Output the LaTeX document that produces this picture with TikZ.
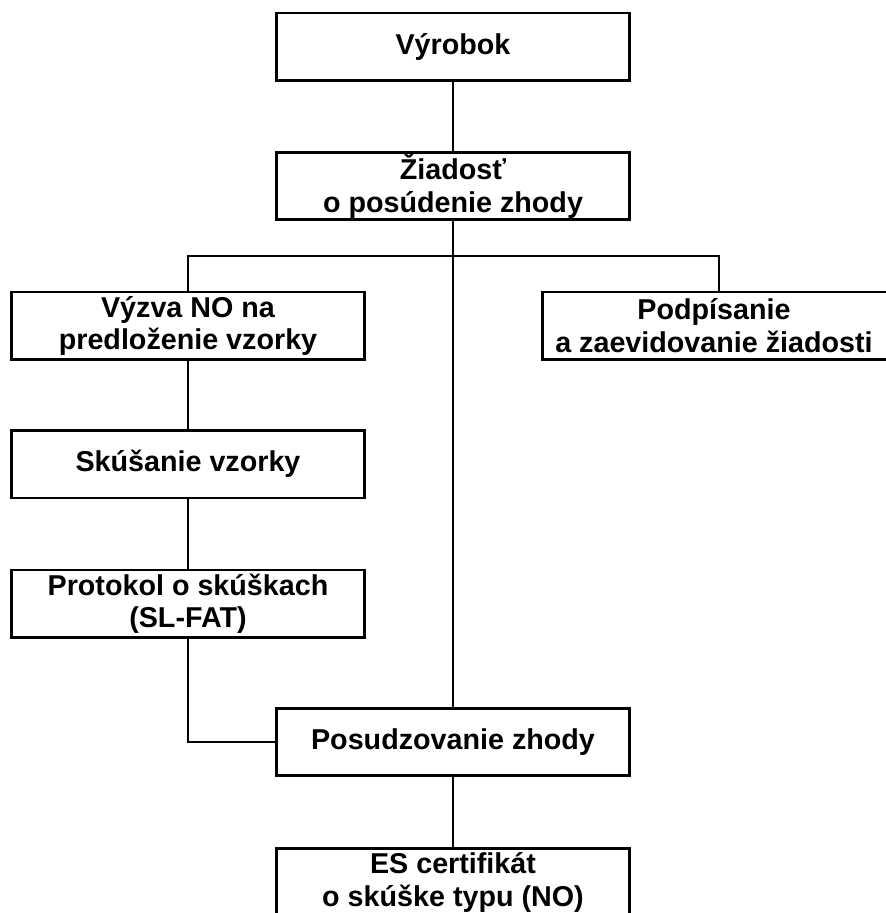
\documentclass[tikz,border=0pt]{standalone}
\usepackage{fontspec}
\setmainfont{Liberation Sans}
\usetikzlibrary{positioning,calc}
\tikzset{box/.style={draw, line width=2.6pt, outer sep=0pt, minimum width=353pt, minimum height=67.4pt, inner sep=0pt, align=center, font=\bfseries\fontsize{28.7}{32.5}\selectfont}}
\tikzset{conn/.style={draw, line width=2pt}}
\begin{document}
\begin{tikzpicture}[x=1pt, y=1pt]
			\useasboundingbox (0,0) rectangle (886,-913);
			\node[box] (V) at (453,-46.5) {Výrobok};
			\node[box, below=72pt of V] (Z) {Žiadosť\\o posúdenie zhody};
			\node[box, below=72.5pt of Z, xshift=-265pt] (VN) {Výzva NO na\\predloženie vzorky};
			\node[box, below=72.5pt of Z, xshift=266pt] (P) {\hspace*{-10pt}Podpísanie\\\hspace*{-10pt}a zaevidovanie žiadosti};
			\node[box, below=71pt of VN] (S) {Skúšanie vzorky};
			\node[box, below=72pt of S] (PR) {Protokol o skúškach\\(SL-FAT)};
			\node[box, below=71pt of PR, xshift=265pt] (PZ) {Posudzovanie zhody};
			\node[box, below=73pt of PZ] (ES) {ES certifikát\\o skúške typu (NO)};
			\coordinate (J) at ($(Z.south)!.5!(Z.south|-VN.north)$);
			\draw[conn] (V) -- (Z);
			\draw[conn] (Z.south) -- (PZ.north);
			\draw[conn] (VN.north) |- (J) -| (P.north);
			\draw[conn] (VN) -- (S);
			\draw[conn] (S) -- (PR);
			\draw[conn] (PR.south) |- (PZ.west);
			\draw[conn] (PZ) -- (ES);
		\end{tikzpicture}
\end{document}
